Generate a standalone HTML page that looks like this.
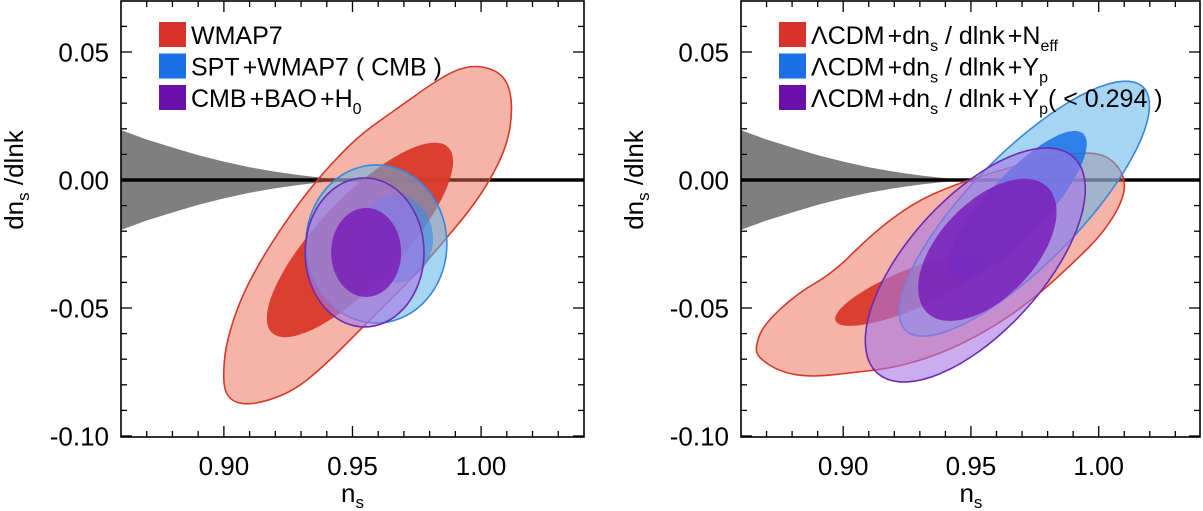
<!DOCTYPE html>
<html><head><meta charset="utf-8"><style>
html,body{margin:0;padding:0;background:#fff;}
svg{display:block;font-family:"Liberation Sans",Arial,sans-serif;}
</style></head><body>
<svg id="fig" width="1203" height="511" viewBox="0 0 1203 511" xmlns="http://www.w3.org/2000/svg"></svg>
<script>
// ---- data (n_s, dn_s/dlnk) ----
const wedgeNs = [0.86,0.87,0.88,0.89,0.90,0.91,0.92,0.93,0.94,0.95];
const wedgeHalf = [0.0195,0.0158,0.0127,0.0097,0.0072,0.0050,0.0032,0.0018,0.0007,0.0];
const xTicks = [0.90,0.95,1.00];
const xTickLabels = ["0.90","0.95","1.00"];
const yTicks = [0.05,0.00,-0.05,-0.10];
const yTickLabels = ["0.05","0.00","-0.05","-0.10"];
// left panel: WMAP7 outer contour
const wmapOuterNs = [0.9984,1.0074,1.0116,1.012,1.0093,1.0035,0.9957,0.986,0.9743,0.9626,0.951,0.9393,0.9277,0.916,0.9063,0.9004,0.8997,0.9012,0.9063,0.9133,0.9218,0.9315,0.9413,0.9529,0.9665,0.9801,0.9899];
const wmapOuterDn = [0.0449,0.0422,0.0352,0.0234,0.0117,0.0,-0.0117,-0.0234,-0.0371,-0.0488,-0.0605,-0.0723,-0.082,-0.0867,-0.0879,-0.084,-0.0742,-0.0625,-0.0469,-0.0332,-0.0195,-0.0059,0.0059,0.0176,0.0273,0.0371,0.043];
// ellipses: [centerNs, centerDn, Ans, Adn, Bns, Bdn]
const wmapInner = [0.9529,-0.0234,0.0342,0.0363,0.0119,-0.0113];
const sptOuter = [0.9593,-0.025,0.0274,0.0,0.0,0.0309];
const sptInner = [0.9665,-0.023,0.0148,0.0,0.0,0.0172];
const cbhOuter = [0.9547,-0.0283,0.0231,0.0,0.0,0.0291];
const cbhInner = [0.9553,-0.0283,0.0136,0.0,0.0,0.0174];
// right panel: Neff outer contour
const neffOuterNs = [0.8656,0.8687,0.882,0.896,0.9117,0.9274,0.943,0.9614,0.981,0.9955,1.0045,1.0104,1.0096,1.0018,0.990,0.977,0.9614,0.942,0.9223,0.9027,0.8871,0.8754,0.8668];
const neffOuterDn = [-0.0652,-0.0566,-0.0443,-0.0363,-0.0207,-0.0090,-0.002,0.0039,0.009,0.011,0.009,0.0012,-0.0078,-0.0207,-0.0324,-0.0443,-0.0559,-0.0664,-0.0730,-0.0754,-0.0770,-0.075,-0.0695];
const neffInner = [0.926,-0.043,0.029,0.012,0.003,-0.0072];
const ypOuter = [0.9709,-0.0112,0.0465,0.0475,0.0154,-0.015];
const ypInner = [0.968,-0.010,0.026,0.028,0.0084,-0.0082];
const ypcOuter = [0.9517,-0.0332,0.0384,0.0422,0.0195,-0.0176];
const ypcInner = [0.9564,-0.0273,0.0235,0.0246,0.0135,-0.0129];

const NS="http://www.w3.org/2000/svg";
const svg=document.getElementById('fig');
function mk(tag,attrs,parent){const e=document.createElementNS(NS,tag);for(const k in attrs)e.setAttribute(k,attrs[k]);(parent||svg).appendChild(e);return e;}

function panel(name,x0,x1,xs,legend,drawContours){
  const g=mk('g',{});
  
  
  const X=v=>x0+(v-0.86)*xs, Y=v=>180-v*2560;
  const clip=mk('clipPath',{id:name+'-clip'},g);
  mk('rect',{x:x0,y:1,width:x1-x0,height:436},clip);
  const plot=mk('g',{'clip-path':'url(#'+name+'-clip)'},g);
  let d='';
  wedgeNs.forEach((n,i)=>{d+=(i?'L':'M')+X(n)+','+Y(wedgeHalf[i]);});
  for(let i=wedgeNs.length-1;i>=0;i--)d+='L'+X(wedgeNs[i])+','+Y(-wedgeHalf[i]);
  const w=mk('path',{d:d+'Z',fill:'#7f7f7f'},plot);
  
  
  const zl=mk('line',{x1:x0,x2:x1,y1:Y(0),y2:Y(0),stroke:'#000','stroke-width':3.5},plot);
  
  
  const poly=(ns,dn,fill,op,stroke,nm,smooth)=>{
    const pts=ns.map((n,i)=>[X(n),Y(dn[i])]);
    let p='';
    if(smooth){
      const m=pts.length;
      p='M'+((pts[0][0]+pts[1][0])/2).toFixed(1)+','+((pts[0][1]+pts[1][1])/2).toFixed(1);
      for(let i=1;i<=m;i++){const a=pts[i%m],b=pts[(i+1)%m];p+='Q'+a[0].toFixed(1)+','+a[1].toFixed(1)+' '+((a[0]+b[0])/2).toFixed(1)+','+((a[1]+b[1])/2).toFixed(1);}
    } else pts.forEach((q,i)=>{p+=(i?'L':'M')+q[0].toFixed(1)+','+q[1].toFixed(1);});
    const e=mk('path',{d:p+'Z',fill:fill,'fill-opacity':op,stroke:stroke||'none','stroke-width':1.6,'stroke-linejoin':'round'},plot);
    
    
  };
  const ell=(E,fill,op,stroke,nm)=>{
    const ns=[],dn=[];
    for(let k=0;k<72;k++){const t=k/72*2*Math.PI;ns.push(E[0]+Math.cos(t)*E[2]+Math.sin(t)*E[4]);dn.push(E[1]+Math.cos(t)*E[3]+Math.sin(t)*E[5]);}
    poly(ns,dn,fill,op,stroke,nm,false);
  };
  drawContours(poly,ell);
  const fr=mk('rect',{x:x0,y:1,width:x1-x0,height:436,fill:'none',stroke:'#000','stroke-width':1.6},g);
  
  
  for(let i=0;i<=18;i++){const v=0.86+i*0.01;const major=xTicks.some(t=>Math.abs(t-v)<1e-6);const L=major?11:6;const px=X(v);
    if(px<=x0+1||px>=x1-1)continue;
    mk('line',{x1:px,x2:px,y1:437,y2:437-L,stroke:'#000','stroke-width':1.3},g);
    mk('line',{x1:px,x2:px,y1:1,y2:1+L,stroke:'#000','stroke-width':1.3},g);}
  for(let i=-10;i<=7;i++){const v=i*0.01;const major=yTicks.some(t=>Math.abs(t-v)<1e-6);const L=major?11:6;const py=Y(v);
    if(py<2||py>436)continue;
    mk('line',{x1:x0,x2:x0+L,y1:py,y2:py,stroke:'#000','stroke-width':1.3},g);
    mk('line',{x1:x1,x2:x1-L,y1:py,y2:py,stroke:'#000','stroke-width':1.3},g);}
  xTicks.forEach((v,i)=>{const t=mk('text',{x:X(v),y:475,'font-size':26,'text-anchor':'middle'},g);t.textContent=xTickLabels[i];
    
    });
  yTicks.forEach((v,i)=>{const t=mk('text',{x:x0-12,y:Y(v)+9.5,'font-size':26,'text-anchor':'end'},g);t.textContent=yTickLabels[i];
    
    });
  const xt=mk('text',{x:(X(0.95)),y:502,'font-size':26,'text-anchor':'middle'},g);
  xt.innerHTML='n<tspan font-size="17" dy="6">s</tspan>';
  
  
  const yt=mk('text',{x:0,y:0,'font-size':26,'text-anchor':'middle',transform:'translate('+(x0-98)+',180) rotate(-90)'},g);
  yt.innerHTML='dn<tspan font-size="17" dy="6">s</tspan><tspan dy="-6"> /dlnk</tspan>';
  
  
  legend.forEach((it,i)=>{const ly=22+i*31.5;
    const sw=mk('rect',{x:x0+38,y:ly,width:27,height:25,fill:it[0]},g);
    
    
    const t=mk('text',{x:x0+70,y:ly+22,'font-size':25},g);t.innerHTML=it[1];
    
    });
}
const P='<tspan dx="3">+</tspan><tspan dx="3"></tspan>';
panel('left-panel',121,584,2572,[
  ['#d8322a','WMAP7'],['#1a6ee6','SPT'+P+'WMAP7 ( CMB )'],['#6a0fa8','CMB'+P+'BAO'+P+'H<tspan font-size="16" dy="7">0</tspan>']],
  (poly,ell)=>{
    poly(wmapOuterNs,wmapOuterDn,'#ec6a52',0.5,'#d33a2a','wmap7-outer',true);
    ell(wmapInner,'#d8392a',0.95,null,'wmap7-inner');
    ell(sptOuter,'#5cb2ea',0.55,'#3a86d8','spt-outer');
    ell(sptInner,'#3a8ae8',0.6,null,'spt-inner');
    ell(cbhOuter,'#a874e6',0.6,'#6a2db0','cmb-bao-h0-outer');
    ell(cbhInner,'#7a1fb8',0.85,null,'cmb-bao-h0-inner');
  });

panel('right-panel',741,1200,2555,[
  ['#d8322a','&#923;CDM'+P+'dn<tspan font-size="16" dy="7">s</tspan><tspan dy="-7"> / dlnk</tspan>'+P+'N<tspan font-size="16" dy="7">eff</tspan>'],
  ['#1a6ee6','&#923;CDM'+P+'dn<tspan font-size="16" dy="7">s</tspan><tspan dy="-7"> / dlnk</tspan>'+P+'Y<tspan font-size="16" dy="7">p</tspan>'],
  ['#6a0fa8','&#923;CDM'+P+'dn<tspan font-size="16" dy="7">s</tspan><tspan dy="-7"> / dlnk</tspan>'+P+'Y<tspan font-size="16" dy="7">p</tspan><tspan dy="-7">( &lt; 0.294 )</tspan>']],
  (poly,ell)=>{
    poly(neffOuterNs,neffOuterDn,'#ec6a52',0.5,'#d33a2a','neff-outer',true);
    ell(neffInner,'#d8392a',0.95,null,'neff-inner');
    ell(ypOuter,'#5cb2ea',0.55,'#3a86d8','yp-outer');
    ell(ypInner,'#1a72e6',0.85,null,'yp-inner');
    ell(ypcOuter,'#a874e6',0.6,'#6a2db0','yp-limited-outer');
    ell(ypcInner,'#7a1fb8',0.85,null,'yp-limited-inner');
  });
</script>
</body></html>
